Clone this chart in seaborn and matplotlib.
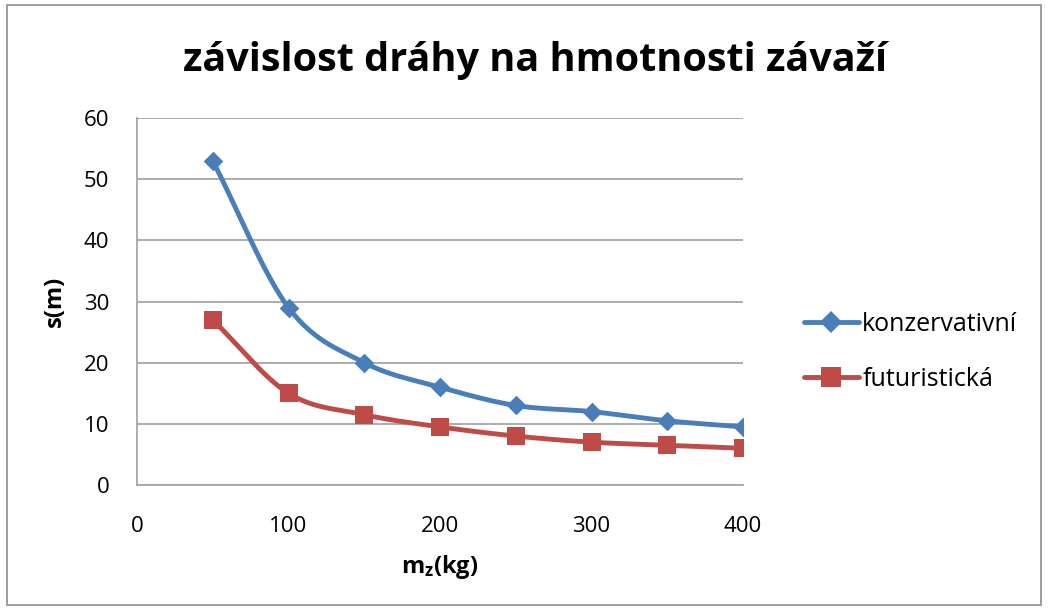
import numpy as np
import pandas as pd
import seaborn as sns
import matplotlib
matplotlib.use("Agg")
import matplotlib.pyplot as plt
from matplotlib.lines import Line2D
from matplotlib.patches import Rectangle

# ---- data ----
mass = [50, 100, 150, 200, 250, 300, 350, 400]
konzervativni = [53, 29, 20, 16, 13, 12, 10.5, 9.5]
futuristicka = [27, 15, 11.5, 9.5, 8, 7, 6.5, 6]
series_names = ["konzervativní", "futuristická"]
title = "závislost dráhy na hmotnosti závaží"
xticks = [0, 100, 200, 300, 400]
yticks = [0, 10, 20, 30, 40, 50, 60]

sns.set_theme(style="white")
FONT = ["Open Sans", "DejaVu Sans"]
plt.rcParams["font.family"] = FONT
plt.rcParams["mathtext.fontset"] = "custom"
plt.rcParams["mathtext.bf"] = "Open Sans:bold"
plt.rcParams["mathtext.rm"] = "Open Sans"
plt.rcParams["text.color"] = "black"
plt.rcParams["axes.labelcolor"] = "black"
plt.rcParams["xtick.color"] = "black"
plt.rcParams["ytick.color"] = "black"

blue = "#4A7EBB"
red = "#BE4B48"
grid = "#A6A6A6"


def catmull_rom(x, y, n=30, tension=0.5):
    x = np.asarray(x, float)
    y = np.asarray(y, float)
    px = np.concatenate([[2 * x[0] - x[1]], x, [2 * x[-1] - x[-2]]])
    py = np.concatenate([[2 * y[0] - y[1]], y, [2 * y[-1] - y[-2]]])
    xs, ys = [], []
    for i in range(1, len(px) - 2):
        t = np.linspace(0, 1, n, endpoint=False)
        m1x = tension * (px[i + 1] - px[i - 1])
        m2x = tension * (px[i + 2] - px[i])
        m1y = tension * (py[i + 1] - py[i - 1])
        m2y = tension * (py[i + 2] - py[i])
        h00 = 2 * t**3 - 3 * t**2 + 1
        h10 = t**3 - 2 * t**2 + t
        h01 = -2 * t**3 + 3 * t**2
        h11 = t**3 - t**2
        xs.append(h00 * px[i] + h10 * m1x + h01 * px[i + 1] + h11 * m2x)
        ys.append(h00 * py[i] + h10 * m1y + h01 * py[i + 1] + h11 * m2y)
    xs.append([x[-1]])
    ys.append([y[-1]])
    return np.concatenate(xs), np.concatenate(ys)


fig = plt.figure(figsize=(10.49, 6.08), dpi=100)
ax = fig.add_axes([137 / 1049, 1 - 485 / 608, (743 - 137) / 1049, (485 - 118) / 608])

for vals, color, marker, ms, name in [
    (konzervativni, blue, "D", 10, series_names[0]),
    (futuristicka, red, "s", 13, series_names[1]),
]:
    sx, sy = catmull_rom(mass, vals)
    smooth = pd.DataFrame({"x": sx, "y": sy})
    pts = pd.DataFrame({"x": mass, "y": vals})
    sns.lineplot(data=smooth, x="x", y="y", ax=ax, color=color, lw=3.5,
                 sort=False, estimator=None)
    sns.scatterplot(data=pts, x="x", y="y", ax=ax, color=color, marker=marker,
                    s=ms**2, edgecolor=color, linewidth=0, zorder=5)

ax.set_xlim(0, 400)
ax.set_ylim(0, 60)
ax.set_xticks(xticks)
ax.set_yticks(yticks)
ax.tick_params(axis="both", labelsize=16, colors="black", length=0)
ax.tick_params(axis="x", pad=22)
ax.tick_params(axis="y", pad=20)
ax.yaxis.grid(True, color=grid, lw=1.3)
ax.xaxis.grid(False)
for s in ["top", "right"]:
    ax.spines[s].set_visible(False)
for s in ["left", "bottom"]:
    ax.spines[s].set_color(grid)
    ax.spines[s].set_linewidth(1.3)

ax.set_xlabel(r"$\mathbf{m_z}$$\mathbf{(kg)}$", fontsize=17, fontweight="bold", labelpad=12)
ax.set_ylabel("s(m)", fontsize=17, fontweight="bold", labelpad=12)

fig.text(535 / 1049, 1 - 60 / 608, title, ha="center", va="center",
         fontsize=28.5, fontweight="bold")

handles = [
    Line2D([], [], color=blue, lw=3.5, marker="D", ms=11, markeredgewidth=0),
    Line2D([], [], color=red, lw=3.5, marker="s", ms=14, markeredgewidth=0),
]
fig.legend(handles, series_names, loc="center left",
           bbox_to_anchor=(781 / 1049, 1 - 352 / 608), frameon=False,
           fontsize=18, handlelength=2.2, handletextpad=0.15, labelspacing=1.2)

fig.patches.append(Rectangle((7 / 1049, 3 / 608), 1034 / 1049, 600 / 608,
                             transform=fig.transFigure, fill=False,
                             edgecolor="#8C8C8C", lw=1.2))

fig.savefig("out.png", dpi=100)
